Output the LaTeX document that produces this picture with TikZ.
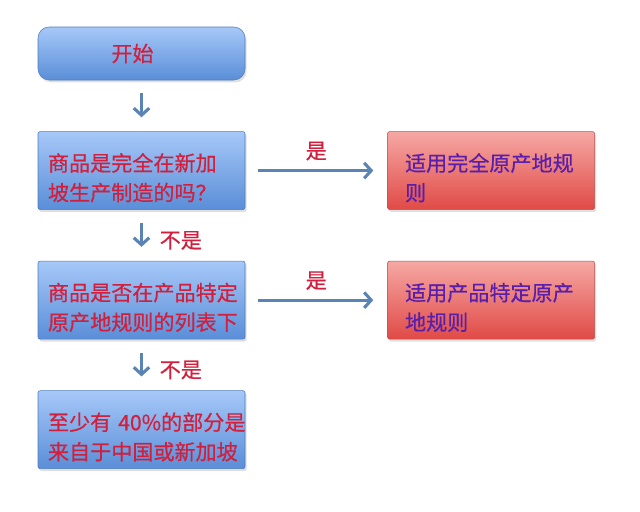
\documentclass[tikz,border=0pt]{standalone}
\usepackage{fontspec}
\newfontfamily\cjk{Noto Sans CJK SC}[FakeBold=0.6]
\usetikzlibrary{shapes,arrows.meta,shadows,positioning}

\definecolor{querytop}{HTML}{A6C8F8}
\definecolor{querybot}{HTML}{5A8ED8}
\definecolor{queryline}{HTML}{4F7EBD}
\definecolor{resulttop}{HTML}{F6A8A4}
\definecolor{resultbot}{HTML}{E04A46}
\definecolor{resultline}{HTML}{C0504D}
\definecolor{asktext}{HTML}{D0203E}
\definecolor{ruletext}{HTML}{5A1FAA}
\definecolor{arrowblue}{HTML}{5A84B4}

\begin{document}
\begin{tikzpicture}
    \tikzset{
        flowbox/.style = {rectangle, draw=queryline, top color=querytop, bottom color=querybot, thin, rounded corners=1.5pt,
            minimum width=5.175cm, minimum height=1.95cm, inner ysep=0pt, text=asktext, font=\cjk\fontsize{15}{21}\selectfont,
            drop shadow={opacity=0.25, shadow xshift=0.04cm, shadow yshift=-0.06cm}},
        startbox/.style = {flowbox, rounded corners=8pt, minimum height=1.325cm, align=center},
        query/.style = {flowbox, text width=4.675cm, inner xsep=0.25cm, align=left, execute at begin node={\rule{0pt}{23pt}}},
        result/.style = {flowbox, draw=resultline, top color=resulttop, bottom color=resultbot, text=ruletext,
            text width=4.3cm, inner xsep=0.4375cm, align=left, execute at begin node={\rule{0pt}{23pt}}},
        line/.style = {draw=arrowblue, line width=2.2pt, -{Straight Barb[length=5pt, width=11pt]},
            shorten <=0.33cm, shorten >=0.35cm},
        yes/.style = {text=asktext, font=\cjk\fontsize{15}{18}\selectfont, above=0.1cm, midway},
        no/.style = {text=asktext, font=\cjk\fontsize{15}{18}\selectfont, right=0.3cm, pos=0.6}
    }

    \useasboundingbox (0,0) rectangle (16,-12.775);

    \node[startbox](start) at (3.5375,-1.3375){开始\hspace*{0.45cm}};
    \node[query](whole)[below = 1.275cm of start]{商品是完全在新加\\坡生产制造的吗？};
    \node[result](rulewhole)[right = 3.55cm of whole]{适用完全原产地规\\则};

    \node[query](psr)[below = 1.275cm of whole]{商品是否在产品特定\\原产地规则的列表下};
    \node[result](rulepsr)[right = 3.55cm of psr]{适用产品特定原产\\地规则};

    \node[query](value)[below = 1.275cm of psr]{\mbox{至少有 40\%的部分是}\\来自于中国或新加坡};

    \path [line] (start) -- (whole);
    \path [line] (whole) -- node[yes](yes1){是} (rulewhole);
    \path [line] (whole) -- node[no](no1){不是} (psr);
    \path [line] (psr) -- node[yes](yes2){是} (rulepsr);
    \path [line] (psr) -- node[no](no2){不是} (value);

\end{tikzpicture}
\end{document}
